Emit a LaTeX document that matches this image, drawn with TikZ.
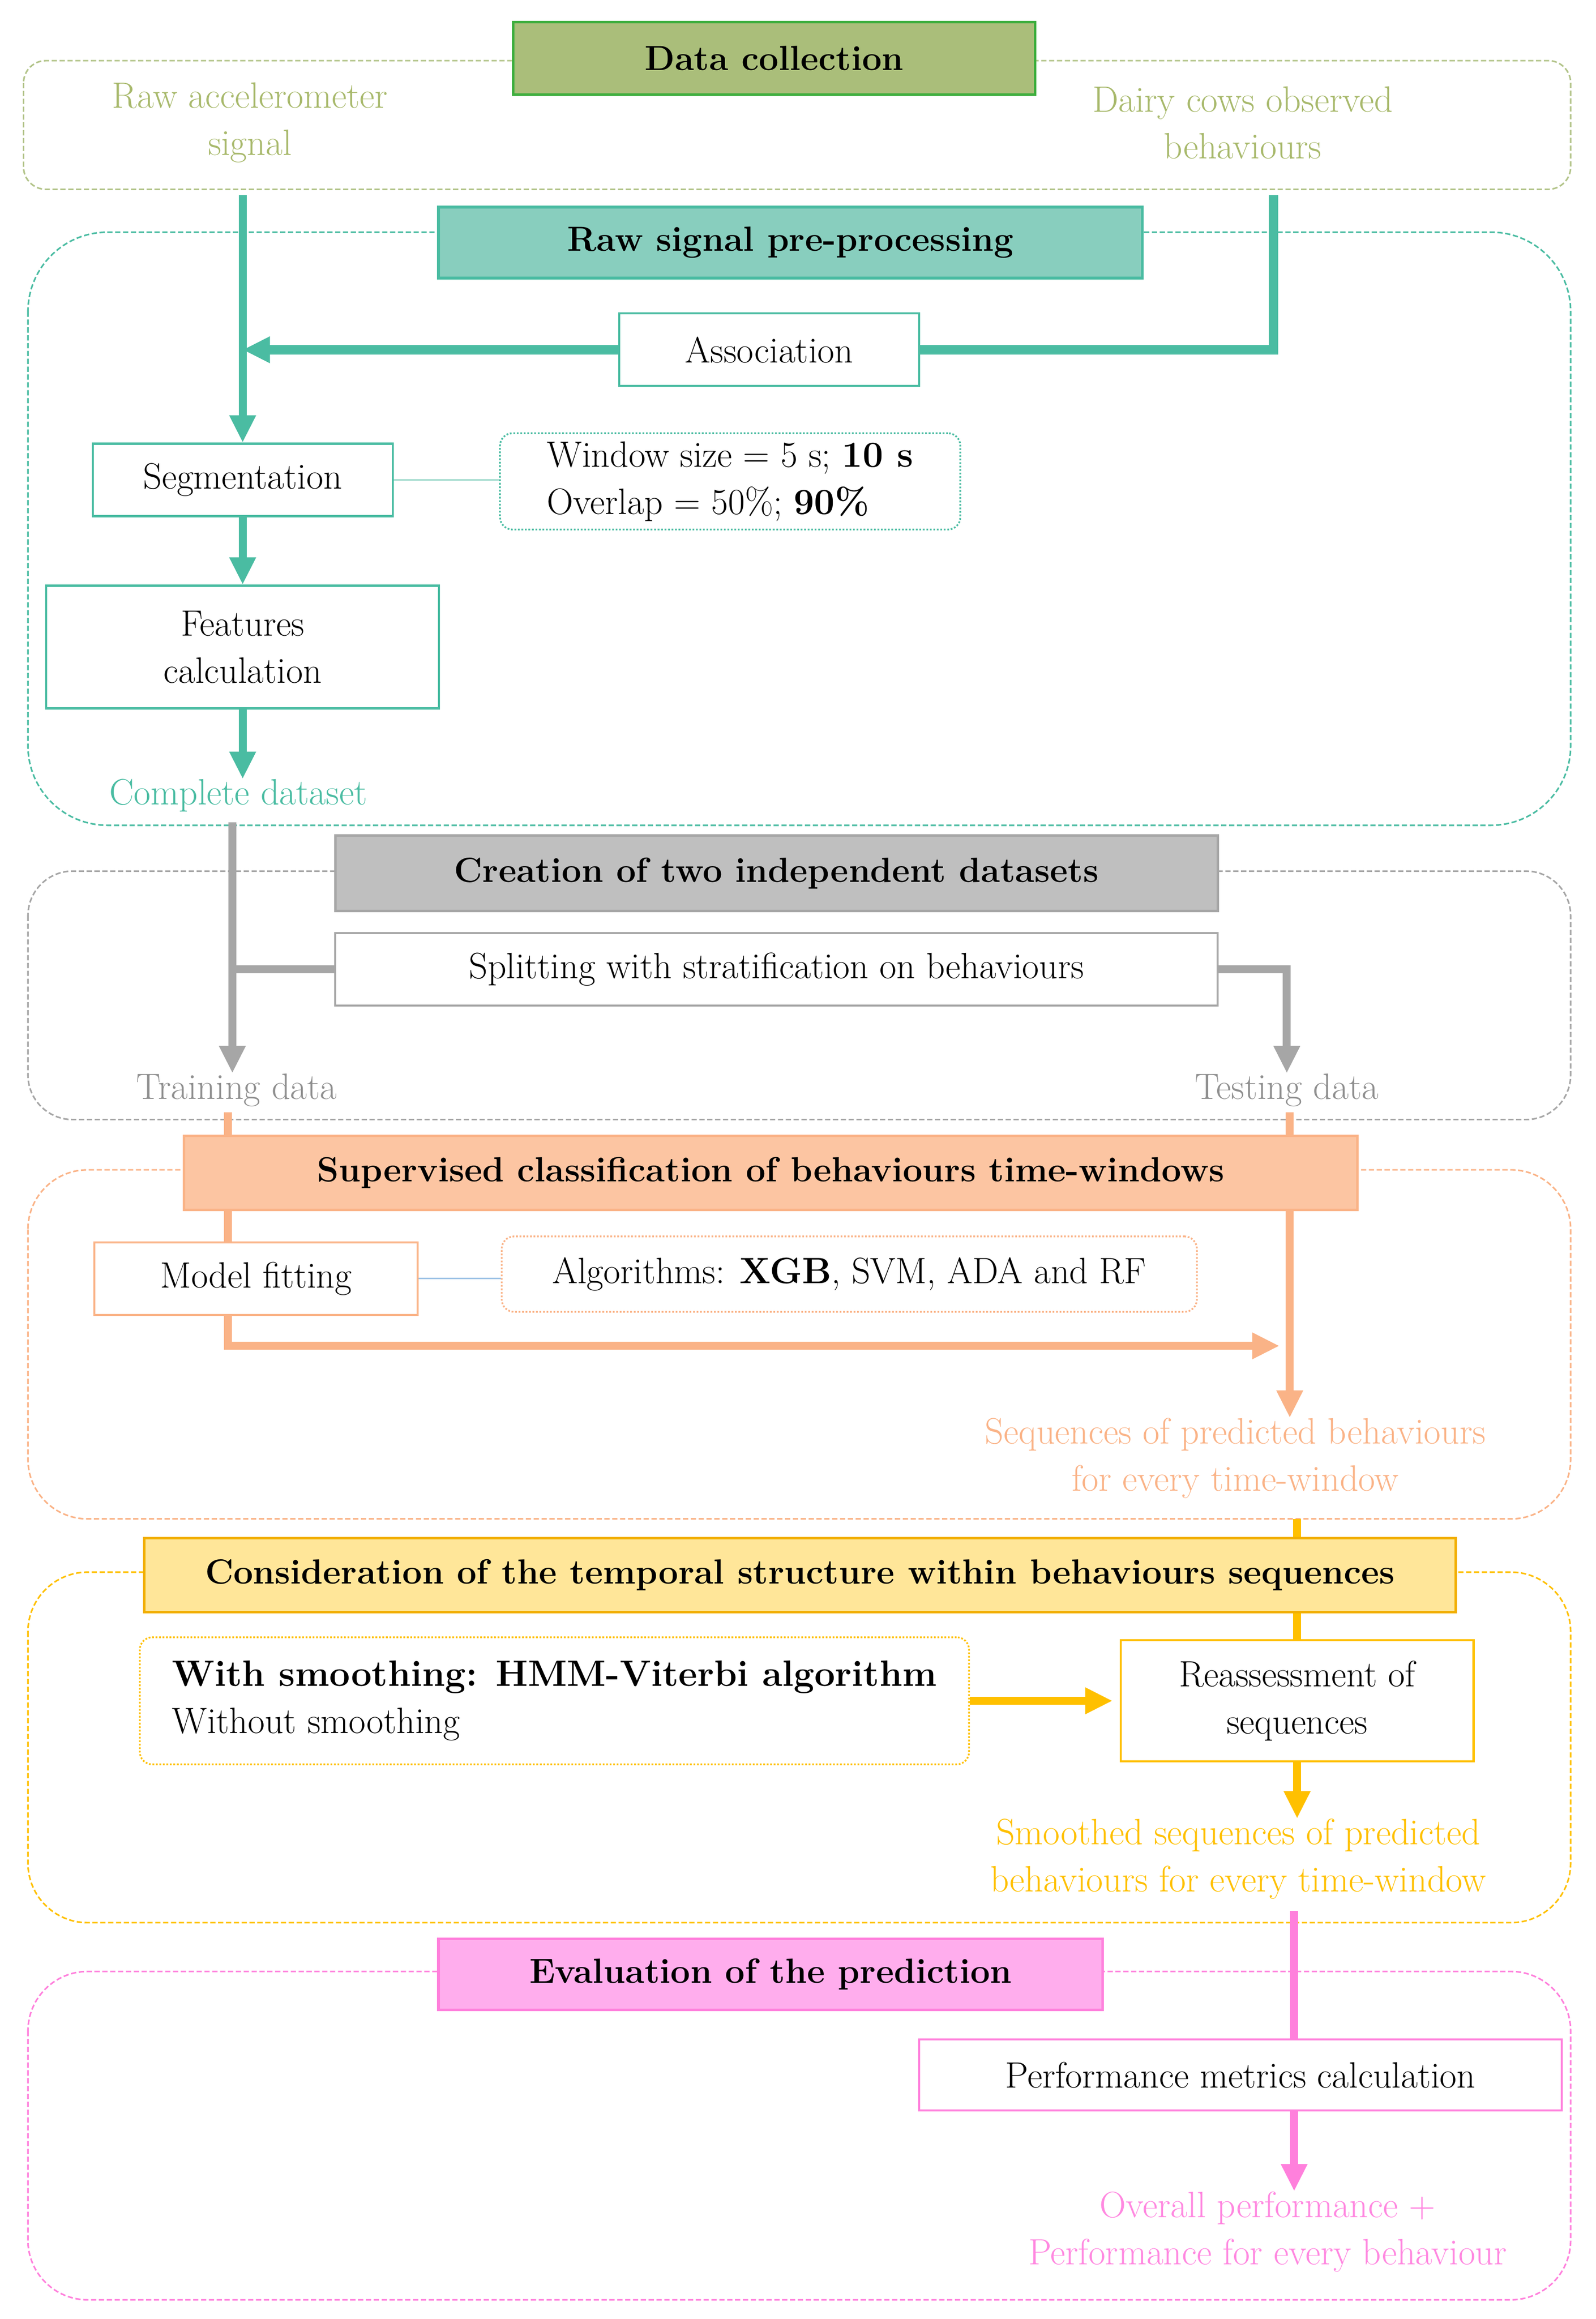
\documentclass[tikz,border=0pt]{standalone}
\usepackage{fontspec}
\usepackage{tikz}
\usetikzlibrary{positioning,calc,arrows.meta}

\definecolor{dcgreen}{HTML}{3DAE3D}
\definecolor{dcfill}{HTML}{AABE7A}
\definecolor{dcline}{HTML}{B3C48A}
\definecolor{dctext}{HTML}{A8B96C}
\definecolor{ppline}{HTML}{4ABCA2}
\definecolor{ppfill}{HTML}{88CEBE}
\definecolor{pplight}{HTML}{9ED9CB}
\definecolor{cdline}{HTML}{A6A6A6}
\definecolor{cdfill}{HTML}{BFBFBF}
\definecolor{cdtext}{HTML}{8F8F8F}
\definecolor{scline}{HTML}{FAB387}
\definecolor{scfill}{HTML}{FCC5A2}
\definecolor{sclight}{HTML}{9DC3E6}
\definecolor{tsline}{HTML}{FFC000}
\definecolor{tsborder}{HTML}{F2B000}
\definecolor{tsfill}{HTML}{FFE699}
\definecolor{evline}{HTML}{FF80DC}
\definecolor{evfill}{HTML}{FFADED}
\definecolor{evtext}{HTML}{FF88E0}

\begin{document}
\begin{tikzpicture}[x=0.02961cm, y=-0.02978cm]
        \tikzstyle{head}=[draw, line width=1.5pt, inner sep=0pt, font=\bfseries\fontsize{20}{24}\selectfont]
        \tikzstyle{box}=[draw, fill=white, line width=1.2pt, inner sep=0pt, align=center, font=\fontsize{21}{27}\selectfont]
        \tikzstyle{note}=[draw, densely dotted, line width=1pt, rounded corners=0.25cm, fill=white, inner sep=0pt, align=left, font=\fontsize{21}{27}\selectfont]
        \tikzstyle{lbl}=[align=center, inner sep=0pt, font=\fontsize{21}{27}\selectfont]
        \tikzstyle{frame}=[line width=0.9pt, dash pattern=on 3pt off 1.5pt]
        \tikzstyle{link}=[line width=4.5pt]
        \tikzstyle{arr}=[line width=4.5pt, -{Triangle[length=0.55cm,width=0.5cm]}]

        \useasboundingbox (0,0) rectangle (1085,1568);

        % frames
        \draw[frame, dcline] (16,41) [rounded corners=0.45cm] rectangle (1068,128);
        \draw[frame, ppline] (19,157) [rounded corners=1.6cm] rectangle (1068,558);
        \draw[frame, cdline] (19,589) [rounded corners=0.9cm] rectangle (1068,757);
        \draw[frame, scline] (19,791) [rounded corners=1.2cm] rectangle (1068,1027);
        \draw[frame, tsline] (19,1063) [rounded corners=1.2cm] rectangle (1068,1300);
        \draw[frame, evline] (19,1333) [rounded corners=1.2cm] rectangle (1068,1555);

        % data collection
        \node[lbl, text=dctext] (acc) at (170,83) {Raw accelerometer\\signal};
        \node[lbl, text=dctext] (obs) at (845,83) {Dairy cows observed\\behaviours};

        % pre-processing
        \coordinate (accend) at (165,132);
        \coordinate (obsend) at (866,132);
        \node[box, draw=ppline, minimum width=6.04cm, minimum height=1.46cm] (assoc) at (523,236.5) {Association};
        \node[box, draw=ppline, minimum width=6.04cm, minimum height=1.46cm] (seg) at (165,324.5) {Segmentation};
        \node[note, draw=ppline, minimum width=9.27cm, minimum height=1.94cm] (win) at (496.5,325.5) {Window size = 5 s; \textbf{10 s}\\Overlap = 50\%; \textbf{90\%}};
        \node[box, draw=ppline, minimum width=7.91cm, minimum height=2.47cm] (feat) at (165,437.5) {Features\\calculation};
        \node[lbl, text=ppline] (compl) at (162,538) {Complete dataset};

        \draw[arr, ppline] (accend) -- (seg.north);
        \draw[link, ppline, line width=5.5pt] (obsend) |- (assoc.east);
        \draw[arr, ppline, line width=5.5pt] (assoc.west) -- (assoc.west -| accend);
        \draw[pplight, line width=0.8pt] (seg.east) -- (seg.east -| win.west);
        \draw[arr, ppline] (seg.south) -- (feat.north);
        \draw[arr, ppline] (feat.south) -- (feat.south |- compl.north);

        % two datasets
        \coordinate (cd) at (158,556);
        \node[box, draw=cdline, minimum width=17.77cm, minimum height=1.46cm] (split) at (528,655.5) {Splitting with stratification on behaviours};
        \node[lbl, text=cdtext] (train) at (161,737) {Training data};
        \node[lbl, text=cdtext] (test) at (875,737) {Testing data};

        \draw[arr, cdline] (cd) -- (cd |- train.north);
        \draw[link, cdline] (split.west) -- (split.west -| cd);
        \draw[arr, cdline] (split.east) -| (test.north);

        % classification
        \coordinate (tr) at (155,752);
        \coordinate (ts) at (877,752);
        \coordinate (fitend) at (870,910);
        \node[box, draw=scline, minimum width=6.51cm, minimum height=1.46cm] (fit) at (174,864.5) {Model fitting};
        \node[note, draw=scline, minimum width=14.0cm, minimum height=1.52cm] (algo) at (577.5,861.5) {Algorithms: \textbf{XGB}, SVM, ADA and RF};
        \node[lbl, text=scline] (seq) at (840,986) {Sequences of predicted behaviours\\for every time-window};

        \draw[link, scline] (tr) -- (tr |- fit.north);
        \draw[arr, scline] (tr |- fit.south) |- (fitend);
        \draw[sclight, line width=0.8pt] (fit.east) -- (fit.east -| algo.west);
        \draw[arr, scline] (ts) -- (ts |- seq.north);

        % temporal structure
        \coordinate (sq) at (882,1027);
        \node[note, draw=tsline, minimum width=16.7cm, minimum height=2.56cm] (smooth) at (377,1150) {\textbf{With smoothing: HMM-Viterbi algorithm}\\Without smoothing};
        \node[box, draw=tsline, minimum width=7.11cm, minimum height=2.44cm] (reass) at (882,1150) {Reassessment of\\sequences};
        \node[lbl, text=tsline] (smd) at (842,1257) {Smoothed sequences of predicted\\behaviours for every time-window};

        \draw[link, tsline] (sq) -- (reass.north);
        \draw[arr, tsline, shorten >=4pt] (smooth.east) -- (reass.west);
        \draw[arr, tsline] (reass.south) -- (reass.south |- smd.north);

        % evaluation
        \coordinate (ev) at (880,1292);
        \node[box, draw=evline, minimum width=12.94cm, minimum height=1.43cm] (perf) at (843.5,1403) {Performance metrics calculation};
        \node[lbl, text=evtext] (ovr) at (862,1509) {Overall performance +\\Performance for every behaviour};

        \draw[link, evline] (ev) -- (ev |- perf.north);
        \draw[arr, evline] (ev |- perf.south) -- (ev |- ovr.north);

        % section titles
        \node[head, draw=dcgreen, fill=dcfill, minimum width=10.51cm, minimum height=1.46cm] (dc) at (526.5,39.5) {Data collection};
        \node[head, draw=ppline, fill=ppfill, minimum width=14.18cm, minimum height=1.43cm] (pp) at (537.5,164) {Raw signal pre-processing};
        \node[head, draw=cdline, fill=cdfill, minimum width=17.77cm, minimum height=1.52cm] (cdh) at (528,590.5) {Creation of two independent datasets};
        \node[head, draw=scline, fill=scfill, minimum width=23.63cm, minimum height=1.49cm] (sc) at (524,793) {Supervised classification of behaviours time-windows};
        \node[head, draw=tsborder, fill=tsfill, minimum width=26.41cm, minimum height=1.49cm] (tsh) at (544,1065) {Consideration of the temporal structure within behaviours sequences};
        \node[head, draw=evline, fill=evfill, minimum width=13.38cm, minimum height=1.43cm] (evh) at (524,1335) {Evaluation of the prediction};

    \end{tikzpicture}
\end{document}
